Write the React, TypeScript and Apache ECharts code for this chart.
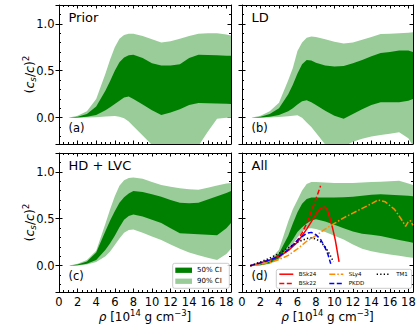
import React, { useEffect, useRef } from 'react';
import * as echarts from 'echarts';

// density grid for the credible bands (10^14 g cm^-3)
const rho = [1, 2, 3, 4, 5, 5.5, 6, 6.5, 7, 7.5, 8, 9, 10, 11, 12, 13, 14, 15, 16, 17, 18, 18.5];

// (a) Prior
const priorUp90 = [0, 0.02, 0.07, 0.2, 0.47, 0.62, 0.75, 0.84, 0.88, 0.895, 0.895, 0.87, 0.835, 0.8, 0.815, 0.84, 0.87, 0.895, 0.9, 0.9, 0.885, 0.875];
const priorUp50 = [0, 0.01, 0.04, 0.12, 0.29, 0.39, 0.5, 0.59, 0.64, 0.665, 0.67, 0.635, 0.58, 0.555, 0.555, 0.57, 0.635, 0.67, 0.668, 0.665, 0.66, 0.66];
const priorLow50 = [0, 0.003, 0.01, 0.03, 0.08, 0.11, 0.145, 0.18, 0.215, 0.225, 0.2, 0.14, 0.08, 0.03, 0.055, 0.09, 0.135, 0.157, 0.155, 0.15, 0.148, 0.146];
const priorLow90 = [0, 0, 0.002, 0.006, 0.012, 0.016, 0.018, 0.01, -0.005, -0.04, -0.09, -0.19, -0.29, -0.35, -0.38, -0.38, -0.36, -0.3, -0.15, -0.01, 0, 0];

// (b) LD
const ldUp90 = [0, 0.02, 0.07, 0.16, 0.4, 0.53, 0.71, 0.8, 0.85, 0.865, 0.86, 0.835, 0.81, 0.79, 0.8, 0.83, 0.86, 0.89, 0.895, 0.9, 0.905, 0.91];
const ldUp50 = [0, 0.01, 0.04, 0.1, 0.25, 0.35, 0.47, 0.57, 0.615, 0.61, 0.585, 0.555, 0.545, 0.55, 0.58, 0.615, 0.655, 0.69, 0.7, 0.715, 0.715, 0.7];
const ldLow50 = [0, 0.003, 0.01, 0.03, 0.07, 0.1, 0.14, 0.175, 0.185, 0.165, 0.135, 0.075, 0.02, -0.01, 0.04, 0.09, 0.135, 0.165, 0.165, 0.165, 0.18, 0.2];
const ldLow90 = [0, 0, 0.003, 0.008, 0.015, 0.02, 0.025, 0, -0.05, -0.1, -0.16, -0.285, -0.36, -0.31, -0.255, -0.225, -0.2, -0.185, -0.17, -0.155, -0.22, -0.3];

// (c) HD + LVC
const hdUp90 = [0, 0.02, 0.06, 0.16, 0.45, 0.6, 0.74, 0.85, 0.91, 0.935, 0.94, 0.925, 0.89, 0.86, 0.84, 0.825, 0.815, 0.81, 0.83, 0.855, 0.875, 0.88];
const hdUp50 = [0, 0.012, 0.045, 0.14, 0.37, 0.48, 0.58, 0.67, 0.73, 0.77, 0.795, 0.785, 0.76, 0.735, 0.7, 0.67, 0.665, 0.67, 0.705, 0.74, 0.775, 0.795];
const hdLow50 = [0, 0.005, 0.02, 0.06, 0.17, 0.24, 0.32, 0.41, 0.49, 0.53, 0.545, 0.525, 0.49, 0.455, 0.4, 0.345, 0.34, 0.335, 0.33, 0.325, 0.4, 0.455];
const hdLow90 = [0, 0.003, 0.012, 0.04, 0.1, 0.15, 0.22, 0.29, 0.35, 0.38, 0.385, 0.35, 0.31, 0.275, 0.225, 0.18, 0.14, 0.11, 0.085, 0.06, 0.125, 0.18];

// (d) All
const allUp90 = [0, 0.02, 0.06, 0.17, 0.47, 0.6, 0.7, 0.8, 0.87, 0.89, 0.89, 0.885, 0.88, 0.88, 0.88, 0.885, 0.89, 0.895, 0.9, 0.905, 0.875, 0.86];
const allUp50 = [0, 0.012, 0.045, 0.13, 0.32, 0.45, 0.57, 0.66, 0.71, 0.725, 0.725, 0.725, 0.725, 0.728, 0.735, 0.745, 0.755, 0.76, 0.755, 0.75, 0.745, 0.74];
const allLow50 = [0, 0.006, 0.025, 0.08, 0.21, 0.28, 0.36, 0.41, 0.45, 0.48, 0.495, 0.47, 0.435, 0.4, 0.365, 0.34, 0.33, 0.315, 0.295, 0.275, 0.255, 0.245];
const allLow90 = [0, 0.004, 0.018, 0.065, 0.16, 0.23, 0.3, 0.36, 0.395, 0.4, 0.39, 0.36, 0.32, 0.28, 0.225, 0.18, 0.155, 0.135, 0.12, 0.105, 0.09, 0.085];

// nuclear EOS models (panel d)
const bsk24Rho = [0.9, 2, 3, 4, 5, 6, 7, 7.5, 8, 8.5, 8.9, 9.2, 9.5, 9.8, 10.1, 10.5];
const bsk24Cs = [0, 0.03, 0.06, 0.1, 0.16, 0.25, 0.39, 0.47, 0.55, 0.61, 0.625, 0.6, 0.51, 0.4, 0.27, 0.04];
const bsk22Rho = [0.9, 2, 3, 4, 5, 6, 6.5, 7, 7.5, 8, 8.5];
const bsk22Cs = [0, 0.03, 0.06, 0.1, 0.165, 0.27, 0.35, 0.45, 0.58, 0.71, 0.85];
const sly4Rho = [0.9, 2, 3, 4, 5, 6, 7, 8, 9, 10, 11, 12, 13, 14, 14.7, 15.5, 16.5, 17.2, 17.7, 18, 18.2, 18.5];
const sly4Cs = [0, 0.015, 0.035, 0.065, 0.11, 0.18, 0.26, 0.32, 0.39, 0.45, 0.51, 0.56, 0.61, 0.66, 0.7, 0.68, 0.6, 0.5, 0.42, 0.47, 0.48, 0.43];
const pkddRho = [0.9, 2, 3, 4, 5, 6, 6.5, 7, 7.5, 8, 8.5, 9, 9.3, 9.6];
const pkddCs = [0, 0.03, 0.06, 0.1, 0.17, 0.27, 0.31, 0.345, 0.355, 0.33, 0.28, 0.19, 0.12, 0.02];
const tm1Rho = [0.9, 2, 3, 4, 5, 6, 7, 7.5, 8, 8.5, 9, 9.5, 9.9];
const tm1Cs = [0, 0.04, 0.08, 0.13, 0.19, 0.25, 0.29, 0.295, 0.285, 0.255, 0.2, 0.12, 0.04];

const panelNames = ['Prior', 'LD', 'HD + LVC', 'All'];
const panelTags = ['(a)', '(b)', '(c)', '(d)'];
const ciNames = ['50% CI', '90% CI'];
const eosNames = ['BSk24', 'BSk22', 'SLy4', 'PKDD', 'TM1'];

const FONT = 'DejaVu Sans';
const X_MIN = 0, X_MAX = 18.5, Y_MIN = -0.28, Y_MAX = 1.2;
const DARK = '#008000';
const LIGHT = '#99cc99';

const grids = [
  { left: 59, top: 5, width: 172, height: 139 },
  { left: 242, top: 5, width: 171, height: 139 },
  { left: 59, top: 153, width: 172, height: 139 },
  { left: 242, top: 153, width: 171, height: 139 },
];

const axisLineStyle = { color: '#000', width: 1 };

const makeRich = (s: number) => ({
  p: { fontSize: s, fontFamily: FONT, color: '#000', lineHeight: 16 },
  i: { fontSize: s, fontFamily: FONT, color: '#000', fontStyle: 'italic', lineHeight: 16 },
  sub: { fontSize: s * 0.7, fontFamily: FONT, color: '#000', fontStyle: 'italic', verticalAlign: 'bottom', lineHeight: 16 },
  sup: { fontSize: s * 0.7, fontFamily: FONT, color: '#000', verticalAlign: 'top', lineHeight: 16 },
});

function xAxesFor(g: number, labels: boolean) {
  const base = { type: 'value', gridIndex: g, min: X_MIN, max: X_MAX, splitLine: { show: false } };
  return [
    {
      ...base, position: 'bottom', interval: 2,
      axisLine: { show: true, onZero: false, lineStyle: axisLineStyle },
      axisTick: { show: true, inside: true, length: 3.5, lineStyle: axisLineStyle },
      axisLabel: { show: labels, showMaxLabel: false, fontSize: 11.5, color: '#000', fontFamily: FONT, margin: 4 },
      name: labels ? '{i|ρ}{p| [10}{sup|14}{p| g cm}{sup|−3}{p|]}' : '',
      nameLocation: 'middle', nameGap: 17, nameMoveOverlap: false,
      nameTextStyle: { rich: makeRich(12) },
    },
    {
      ...base, position: 'bottom', interval: 0.5,
      axisLine: { show: false, onZero: false },
      axisTick: { show: true, inside: true, length: 2, lineStyle: axisLineStyle },
      axisLabel: { show: false },
    },
    {
      ...base, position: 'top', interval: 2,
      axisLine: { show: true, onZero: false, lineStyle: axisLineStyle },
      axisTick: { show: true, inside: true, length: 3.5, lineStyle: axisLineStyle },
      axisLabel: { show: false },
    },
    {
      ...base, position: 'top', interval: 0.5,
      axisLine: { show: false, onZero: false },
      axisTick: { show: true, inside: true, length: 2, lineStyle: axisLineStyle },
      axisLabel: { show: false },
    },
  ];
}

function yAxesFor(g: number, labels: boolean) {
  const base = { type: 'value', gridIndex: g, min: Y_MIN, max: Y_MAX, splitLine: { show: false } };
  return [
    {
      ...base, position: 'left', splitNumber: 3,
      axisLine: { show: true, onZero: false, lineStyle: axisLineStyle },
      axisTick: { show: true, inside: true, length: 3.5, lineStyle: axisLineStyle },
      axisLabel: {
        show: labels, showMinLabel: false, showMaxLabel: false, fontSize: 11.5, color: '#000', fontFamily: FONT, margin: 4.5,
        formatter: (v: number) => v.toFixed(1),
      },
      name: labels ? '{p|(}{i|c}{sub|s}{p|/}{i|c}{p|)}{sup|2}' : '',
      nameLocation: 'middle', nameGap: 21.5, nameMoveOverlap: false,
      nameTextStyle: { rich: makeRich(12.5) },
    },
    {
      ...base, position: 'left', splitNumber: 3,
      axisLine: { show: false, onZero: false },
      axisTick: { show: true, inside: false, length: 3.5, lineStyle: axisLineStyle },
      axisLabel: { show: false },
    },
    {
      ...base, position: 'left', splitNumber: 15,
      axisLine: { show: false, onZero: false },
      axisTick: { show: true, inside: true, length: 2, lineStyle: axisLineStyle },
      axisLabel: { show: false },
    },
    {
      ...base, position: 'right', splitNumber: 3,
      axisLine: { show: true, onZero: false, lineStyle: axisLineStyle },
      axisTick: { show: true, inside: true, length: 3.5, lineStyle: axisLineStyle },
      axisLabel: { show: false },
    },
    {
      ...base, position: 'right', splitNumber: 15,
      axisLine: { show: false, onZero: false },
      axisTick: { show: true, inside: true, length: 2, lineStyle: axisLineStyle },
      axisLabel: { show: false },
    },
  ];
}

// one filled polygon per band, drawn through the axes' scales (api.coord)
function bandSeries(g: number, low: number[], up: number[], name: string, color: string) {
  const data = rho.map((x, i) => [x, low[i], up[i]]);
  return {
    type: 'custom', name, xAxisIndex: 4 * g, yAxisIndex: 5 * g, clip: true, silent: true,
    itemStyle: { color },
    encode: { x: 0, y: [1, 2] },
    data,
    renderItem: (params: any, api: any) => {
      if (params.dataIndex !== 0) return null;
      const pts: number[][] = [];
      data.forEach((d) => pts.push(api.coord([d[0], d[2]])));
      for (let i = data.length - 1; i >= 0; i--) pts.push(api.coord([data[i][0], data[i][1]]));
      return { type: 'polygon', shape: { points: pts }, style: { fill: color, stroke: null } };
    },
  };
}

function eosSeries(name: string, xs: number[], ys: number[], color: string, type: any, width = 1.5) {
  return {
    type: 'line', name, xAxisIndex: 12, yAxisIndex: 15, data: xs.map((x, i) => [x, ys[i]]),
    symbol: 'none', showSymbol: false, clip: true, z: 5, silent: true,
    lineStyle: { color, width, type },
    itemStyle: { color },
  };
}

const eosColors = ['#ff0000', '#ff0000', '#ff8c00', '#0000ff', '#000000'];
const eosDash: any[] = [null, [5, 2.5], [6, 2, 1.5, 2], [5, 2.5], [1.3, 2.2]];

const App: React.FC = () => {
  const ref = useRef<HTMLDivElement>(null);
  useEffect(() => {
    if (!ref.current) return;
    const chart = echarts.init(ref.current, undefined, { renderer: 'svg' });
    const bands = [
      [priorLow90, priorUp90, priorLow50, priorUp50],
      [ldLow90, ldUp90, ldLow50, ldUp50],
      [hdLow90, hdUp90, hdLow50, hdUp50],
      [allLow90, allUp90, allLow50, allUp50],
    ];
    const series: any[] = [];
    bands.forEach((b, g) => {
      series.push(bandSeries(g, b[0], b[1], ciNames[1], LIGHT));
      series.push(bandSeries(g, b[2], b[3], ciNames[0], DARK));
    });
    const eosX = [bsk24Rho, bsk22Rho, sly4Rho, pkddRho, tm1Rho];
    const eosY = [bsk24Cs, bsk22Cs, sly4Cs, pkddCs, tm1Cs];
    eosNames.forEach((n, k) => {
      series.push(eosSeries(n, eosX[k], eosY[k], eosColors[k], eosDash[k] || 'solid'));
    });

    const xAxis: any[] = [];
    const yAxis: any[] = [];
    for (let g = 0; g < 4; g++) {
      xAxis.push(...xAxesFor(g, g >= 2));
      yAxis.push(...yAxesFor(g, g % 2 === 0));
    }

    const textStyle = (size: number) => ({ fontSize: size, fontWeight: 'normal', color: '#000', fontFamily: FONT });
    const title: any[] = [];
    grids.forEach((gr, g) => {
      title.push({ text: panelNames[g], left: gr.left + 9.5, top: gr.top + 6, padding: 0, textStyle: textStyle(13) });
      title.push({ text: panelTags[g], left: gr.left + 9.5, top: gr.top + 117, padding: 0, textStyle: textStyle(11.5) });
    });

    const legend: any[] = [
      {
        data: ciNames.map((n, i) => ({ name: n, icon: 'rect', itemStyle: { color: i === 0 ? DARK : LIGHT } })),
        orient: 'vertical', left: 175.3, top: 266.5, padding: 0, itemWidth: 16.7, itemHeight: 5.3, itemGap: 3.5,
        textStyle: { fontSize: 7, fontFamily: FONT, color: '#000', lineHeight: 7.5 }, selectedMode: false, z: 100,
      },
    ];

    // EOS legend box (3 columns, 2 rows)
    const colX = [279.3, 329.3, 376.7];
    const rowY = [274.2, 283.4];
    const graphic: any[] = [
      {
        type: 'rect', z: 50, shape: { x: 172.7, y: 263.3, width: 56.6, height: 25, r: 2 },
        style: { fill: 'rgba(255,255,255,0.8)', stroke: '#cccccc', lineWidth: 1 },
      },
      {
        type: 'rect', z: 50, shape: { x: 276.3, y: 269.3, width: 135.4, height: 19, r: 2 },
        style: { fill: 'rgba(255,255,255,0.8)', stroke: '#cccccc', lineWidth: 1 },
      },
    ];
    eosNames.forEach((n, k) => {
      const cx = colX[Math.floor(k / 2)];
      const cy = rowY[k % 2];
      graphic.push({
        type: 'line', z: 60, shape: { x1: cx, y1: cy, x2: cx + 14, y2: cy },
        style: { stroke: eosColors[k], lineWidth: 1.5, lineDash: eosDash[k] || null },
      });
      graphic.push({
        type: 'text', z: 60, x: cx + 19.5, y: cy,
        style: { text: n, fontSize: 5.5, fontFamily: FONT, fill: '#000', verticalAlign: 'middle', align: 'left' },
      });
    });

    chart.setOption({
      animation: false,
      backgroundColor: '#fff',
      textStyle: { fontFamily: FONT },
      grid: grids.map((g) => ({ ...g, containLabel: false })),
      xAxis,
      yAxis,
      title,
      legend,
      graphic,
      series,
    });
    return () => chart.dispose();
  }, []);
  return <div ref={ref} style={{ position: 'absolute', left: 0, top: 0, width: 420, height: 330 }} />;
};

export default App;
